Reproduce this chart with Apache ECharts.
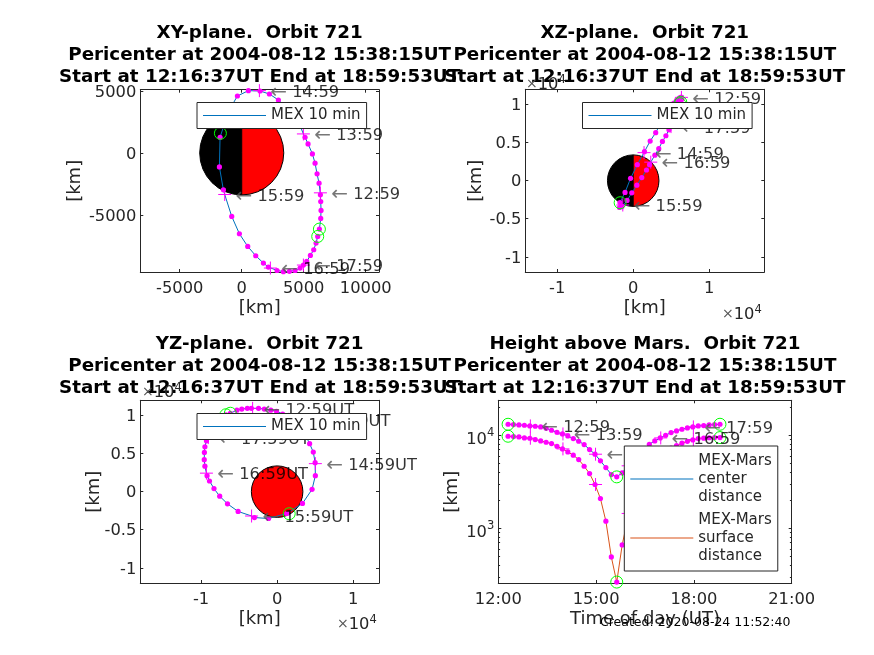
<!DOCTYPE html>
<html><head><meta charset="utf-8">
<style>html,body{margin:0;padding:0;background:#fff}#c{width:874px;height:655px}</style>
<script src="https://cdn.jsdelivr.net/npm/echarts@6/dist/echarts.min.js"></script>
</head><body><div id="c"></div>
<script>
// ---- data: orbit 721, 10-minute samples (km) ----
const dotHours = [12.3,12.467,12.633,12.8,12.967,13.133,13.3,13.467,13.633,13.8,13.967,14.133,14.3,14.467,14.633,14.8,14.967,15.133,15.3,15.467,15.633,15.8,15.967,16.133,16.3,16.467,16.633,16.8,16.967,17.133,17.3,17.467,17.633,17.8,17.967,18.133,18.3,18.467,18.633,18.8];
const dotX = [6263,6371,6397,6371,6344,6236,6075,5914,5699,5349,5107,4570,4032,3494,2957,2231,1478,538,-349,-1075,-1747,-1801,-1478,-806,-188,484,1129,1747,2150,2849,3360,3844,4301,4704,4973,5242,5537,5806,5994,6129];
const dotY = [-6156,-5295,-4650,-3924,-3387,-2446,-1693,-833,-81,726,1263,2527,3333,3790,4274,4758,5000,5027,4596,3333,1263,-1129,-2984,-5134,-6532,-7553,-8306,-8897,-9220,-9500,-9590,-9569,-9500,-9300,-9059,-8763,-8279,-7822,-7284,-6747];
const dotZ = [10300,10700,10850,10940,10940,10940,10850,10700,10550,10200,9700,9100,8200,7300,6300,5200,3800,2100,300,-1550,-2870,-3530,-3400,-2600,-1600,-600,400,1400,2100,3350,4200,5150,5900,6670,7200,7800,8500,9100,9600,10100];
const dotCenter = [13130,13020,12915,12810,12600,12495,12290,11890,11320,10770,10330,9835,9210,8620,7940,7010,6250,5300,4490,3775,3565,3935,4640,5385,6195,7070,8000,8690,9360,10000,10680,11130,11600,11990,12290,12600,12700,12915,13020,13130];
const dotSurface = [9755,9675,9595,9360,9285,8985,8690,8410,8135,7615,7130,6620,6095,5475,4640,3870,2950,2085,1190,490,263,660,1250,2000,2800,3680,4610,5300,5970,6610,7290,7740,8210,8600,8900,9210,9310,9400,9430,9440];
// hourly crosses
const hourHours = [12.983,13.983,14.983,15.983,16.983,17.983];
const hourNames = ['12:59','13:59','14:59','15:59','16:59','17:59'];
const hourX = [6344,4973,1425,-1371,2311,4973];
const hourY = [-3226,1532,5030,-3360,-9300,-9059];
const hourZ = [10940,9500,3680,-3200,2430,7100];
const hourCenter = [12600,10330,6250,4690,9360,12290];
const hourSurface = [9285,7130,2950,1440,5970,9000];
// start, pericenter, end circles
const ringHours = [12.3,15.633,18.8];
const ringX = [6263,-1720,6129];
const ringY = [-6156,1586,-6747];
const ringZ = [10300,-2900,10100];
const ringCenter = [13130,3565,13130];
const ringSurface = [9755,263,9440];
const marsRadius = 3390;
// tick values
const ticksXY_x = [-5000,0,5000,10000];
const ticksXY_y = [-5000,0,5000];
const ticksXZ_x = [-10000,0,10000];
const ticksYZ_y = [-10000,-5000,0,5000,10000];
const ticksHour = [12,15,18,21];
const ticksLog = [1000,10000];
const ticksLogMinor = [300,400,500,600,700,800,900,2000,3000,4000,5000,6000,7000,8000,9000,20000];
const titleLine2 = 'Pericenter at 2004-08-12 15:38:15UT';
const titleLine3 = 'Start at 12:16:37UT End at 18:59:53UT';
const panelTitles = ['XY-plane.  Orbit 721','XZ-plane.  Orbit 721','YZ-plane.  Orbit 721','Height above Mars.  Orbit 721'];
const legendMex = 'MEX 10 min';
const legendCenter = 'MEX-Mars\ncenter\ndistance';
const legendSurface = 'MEX-Mars\nsurface\ndistance';

// ---- style ----
const FONT = 'DejaVu Sans', INK = '#262626', BLUE = '#0072BD', ORANGE = '#D95319', FS = 16.3, NAMEFS = 18;
const PLUS = 'path://M-10 0H10M0-10V10';
const panels = [
 {l:140.3,r:379,t:89.7,b:272, xr:[-8180,11070], yr:[-9620,5105]},
 {l:525.3,r:764.3,t:89.3,b:272, xr:[-14200,17250], yr:[-12000,12000]},
 {l:140.3,r:379,t:400.3,b:583, xr:[-18000,13400], yr:[-12000,12000]},
 {l:498.3,r:791.7,t:400.3,b:583, xr:[12,21], yr:[257,23770]}
];
const zip = (a,b,c) => a.map((v,i)=> c ? [v,b[i],c[i]] : [v,b[i]]);
const byTime = (times,pts,times2,pts2) => times.map((t,i)=>[t,pts[i]]).concat(times2.map((t,i)=>[t,pts2[i]])).sort((p,q)=>p[0]-q[0]).map(p=>p[1]);

const tickNum = v => String(v/10000);
const option = {animation:false, textStyle:{fontFamily:FONT},
  grid:[], xAxis:[], yAxis:[], series:[], legend:[], title:[]};

panels.forEach((p,i)=>{
  option.grid.push({left:p.l, top:p.t, width:p.r-p.l, height:p.b-p.t, show:false});
  option.title.push({text:panelTitles[i]+'\n'+titleLine2+'\n'+titleLine3, left:(p.l+p.r)/2-5, top:i>=2?328:17, textAlign:'center',
    textStyle:{fontFamily:FONT,fontWeight:'bold',fontSize:18.3,color:'#000',lineHeight:22}});
});
function addAxes(i,xt,yt,xf,yf,xname,yname,yGap,log){
  const p=panels[i];
  const line={show:true,onZero:false,lineStyle:{color:INK,width:1}};
  const tick=v=>({show:true,inside:true,length:3,lineStyle:{color:INK,width:1},customValues:v});
  const common={splitLine:{show:false}};
  option.xAxis.push({...common,gridIndex:i,type:'value',position:'bottom',min:p.xr[0],max:p.xr[1],axisLine:line,axisTick:tick(xt),
    axisLabel:{customValues:xt,formatter:xf,color:INK,fontSize:FS,margin:9,hideOverlap:false},
    name:xname,nameLocation:'middle',nameGap:27,nameTextStyle:{color:INK,fontSize:NAMEFS},nameMoveOverlap:false});
  option.xAxis.push({...common,gridIndex:i,type:'value',position:'top',min:p.xr[0],max:p.xr[1],axisLine:line,axisTick:tick(xt),axisLabel:{show:false}});
  const ytype=log?'log':'value';
  const ylab={customValues:yt,formatter:log?yf:(v=>'{n|'+yf(v)+'}'),color:INK,fontSize:FS,margin:4,hideOverlap:false,
    rich:log?{b:{fontSize:FS,color:INK,fontFamily:FONT,padding:[9,0,0,0]},s:{fontSize:11.5,color:INK,fontFamily:FONT,padding:[0,0,5,0]}}
            :{n:{fontSize:FS,color:INK,fontFamily:FONT,padding:[3,0,0,0]}}};
  const ybase={...common,gridIndex:i,type:ytype,min:p.yr[0],max:p.yr[1],axisLine:line};
  if(log){ybase.logBase=10;}
  option.yAxis.push({...ybase,position:'left',axisTick:tick(yt),axisLabel:ylab,
    name:yname,nameLocation:'middle',nameGap:yGap,nameRotate:90,nameTextStyle:{color:INK,fontSize:NAMEFS},nameMoveOverlap:false});
  option.yAxis.push({...ybase,position:'right',axisTick:tick(yt),axisLabel:{show:false}});
}
const noFmt=v=>String(v);
const timeFmt=v=>v+':00';
const logFmt=v=>'{b|10}{s|'+Math.round(Math.log10(v))+'}';
addAxes(0,ticksXY_x,ticksXY_y,noFmt,noFmt,'[km]','[km]',56,false);
addAxes(1,ticksXZ_x,ticksYZ_y,tickNum,tickNum,'[km]','[km]',40,false);
addAxes(2,ticksXZ_x,ticksYZ_y,tickNum,tickNum,'[km]','[km]',37,false);
addAxes(3,ticksHour,ticksLog,timeFmt,logFmt,'Time of day (UT)','[km]',37,true);
// minor log ticks for the height panel
['left','right'].forEach(pos=>option.yAxis.push({gridIndex:3,type:'log',logBase:10,position:pos,min:panels[3].yr[0],max:panels[3].yr[1],
  axisLine:{show:false,onZero:false},splitLine:{show:false},axisLabel:{show:false},
  axisTick:{show:true,inside:true,length:1.8,lineStyle:{color:INK,width:1},customValues:ticksLogMinor}}));

function mars(i,halves){
  option.series.push({type:'custom',xAxisIndex:i*2,yAxisIndex:i*2,silent:true,data:[[0,0,marsRadius]],encode:{x:0,y:1},z:1,
    renderItem:(params,api)=>{
      const c=api.coord([api.value(0),api.value(1)]);
      const r=api.size([api.value(2),0])[0];
      return {type:'group',children:halves.map(h=>({type:'sector',
        shape:{cx:c[0],cy:c[1],r:r,r0:0,startAngle:h[0],endAngle:h[1],clockwise:true},
        style:{fill:h[2],stroke:'#000',lineWidth:1}}))};
    }});
}
const labelRich={s:{fontSize:FS,color:'#000',fontFamily:FONT,padding:[4,0,0,0]},a:{fontSize:20,color:'#555',fontFamily:FONT,padding:[4,0,0,0]},t:{fontSize:FS,color:'#000',fontFamily:FONT,padding:[4,0,0,0]}};
function orbit(i,name,color,line,dots,crosses,rings,labels){
  const a={xAxisIndex:i*2,yAxisIndex:i*2,silent:true};
  option.series.push({...a,type:'line',name,data:line,symbol:'none',showSymbol:false,lineStyle:{color,width:1},itemStyle:{color},z:2,clip:true});
  option.series.push({...a,type:'scatter',data:dots,symbol:'circle',symbolSize:5.2,itemStyle:{color:'#ff00ff',opacity:1},z:3});
  option.series.push({...a,type:'scatter',data:crosses,symbol:PLUS,symbolSize:13,itemStyle:{color:'none',borderColor:'#ff00ff',borderWidth:1,opacity:1},z:3});
  option.series.push({...a,type:'scatter',data:rings,symbol:'circle',symbolSize:12,itemStyle:{color:'none',borderColor:'#00ff00',borderWidth:1,opacity:1},z:3});
  if(labels) option.series.push({...a,type:'scatter',data:labels,symbol:'circle',symbolSize:1,itemStyle:{color:'none'},z:3,
    label:{show:true,position:'right',distance:0,offset:[6,3],rich:labelRich,formatter:q=>'{s|  }{a|←}{t| '+q.data[2]+'}'},labelLayout:{hideOverlap:false}});
}
const lab=(a,b,suffix)=>a.map((v,j)=>[v,b[j],hourNames[j]+(suffix||'')]);

mars(0,[[Math.PI/2,Math.PI*1.5,'#000'],[-Math.PI/2,Math.PI/2,'#ff0000']]);
orbit(0,legendMex,BLUE,byTime(dotHours,zip(dotX,dotY),hourHours,zip(hourX,hourY)),zip(dotX,dotY),zip(hourX,hourY),zip(ringX,ringY),lab(hourX,hourY));
mars(1,[[Math.PI/2,Math.PI*1.5,'#000'],[-Math.PI/2,Math.PI/2,'#ff0000']]);
orbit(1,legendMex,BLUE,byTime(dotHours,zip(dotX,dotZ),hourHours,zip(hourX,hourZ)),zip(dotX,dotZ),zip(hourX,hourZ),zip(ringX,ringZ),lab(hourX,hourZ));
mars(2,[[0,Math.PI*2,'#ff0000']]);
orbit(2,legendMex,BLUE,byTime(dotHours,zip(dotY,dotZ),hourHours,zip(hourY,hourZ)),zip(dotY,dotZ),zip(hourY,hourZ),zip(ringY,ringZ),lab(hourY,hourZ,'UT'));
orbit(3,legendCenter,BLUE,byTime(dotHours,zip(dotHours,dotCenter),hourHours,zip(hourHours,hourCenter)),zip(dotHours,dotCenter),zip(hourHours,hourCenter),zip(ringHours,ringCenter),lab(hourHours,hourCenter));
orbit(3,legendSurface,ORANGE,byTime(dotHours,zip(dotHours,dotSurface),hourHours,zip(hourHours,hourSurface)),zip(dotHours,dotSurface),zip(hourHours,hourSurface),zip(ringHours,ringSurface),null);

const legendBase={orient:'vertical',backgroundColor:'#fff',borderColor:INK,borderWidth:1,icon:'rect',itemWidth:63,itemHeight:1,selectedMode:false,
  textStyle:{color:INK,fontSize:15,fontFamily:FONT,lineHeight:18},z:6,padding:[4,6,4,6],itemGap:5};
[[197,102.5],[582.5,102.5],[197,413.5]].forEach(q=>option.legend.push({...legendBase,left:q[0],top:q[1],data:[legendMex]}));
option.legend.push({...legendBase,left:624.3,top:446,data:[legendCenter,legendSurface],padding:[6,6,6,6]});

// axis exponents and the creation stamp
const expo={a:{fontSize:14,color:'#555',fontFamily:FONT,fontWeight:'normal'},b:{fontSize:FS,color:INK,fontFamily:FONT,fontWeight:'normal'},s:{fontSize:11.5,color:INK,fontFamily:FONT,fontWeight:'normal',padding:[0,0,9,0]}};
const expoText='{a|×}{b|10}{s|4}';
[[521,69],[717,299],[137,377],[332,609]].forEach(q=>option.title.push({text:expoText,left:q[0],top:q[1],textStyle:{rich:expo,fontFamily:FONT,fontWeight:'normal'}}));
option.title.push({text:'Created: 2020-08-24 11:52:40',left:595,top:611,textStyle:{fontFamily:FONT,fontSize:12.5,fontWeight:'normal',color:'#000'}});

echarts.init(document.getElementById('c'),null,{renderer:'canvas'}).setOption(option);
</script></body></html>
